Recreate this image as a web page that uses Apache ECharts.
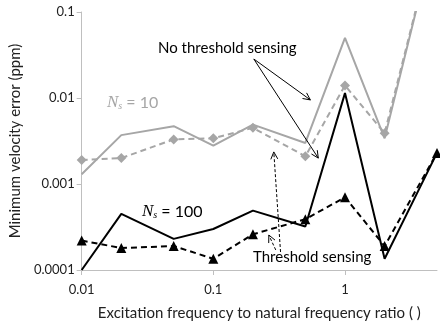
<!DOCTYPE html>
<html>
<head>
<meta charset="utf-8">
<script src="https://cdn.jsdelivr.net/npm/echarts@6/dist/echarts.min.js"></script>
<style>
  html, body { margin: 0; padding: 0; background: #fff; }
  #chart { width: 440px; height: 328px; }
</style>
</head>
<body>
<div id="chart"></div>
<script>
// frequency ratios (x) and errors in ppm (y)
const xValues = [0.01, 0.02, 0.05, 0.1, 0.2, 0.5, 1, 2, 5]
const ns10NoThreshold = [0.0013, 0.0037, 0.0047, 0.0028, 0.0049, 0.003, 0.05, 0.0034, 1.0]
const ns10Threshold = [0.0019, 0.002, 0.0033, 0.0034, 0.0045, 0.0021, 0.014, 0.0039, 1.0]
const ns100NoThreshold = [0.0001, 0.00045, 0.00023, 0.0003, 0.00049, 0.00032, 0.0114, 0.000135, 0.0023]
const ns100Threshold = [0.00022, 0.00018, 0.00019, 0.000135, 0.00026, 0.00039, 0.0007, 0.00019, 0.0023]

const xTicks = [0.01, 0.1, 1]
const xTickLabels = ['0.01', '0.1', '1']
const yTicks = [0.0001, 0.001, 0.01, 0.1]
const yTickLabels = ['0.0001', '0.001', '0.01', '0.1']

const FONT = 'Lato, "Open Sans", sans-serif'
const GRAY = '#a6a6a6'

const pairs = (ys) => xValues.map((x, i) => [x, ys[i]])

const tickLabel = (ticks, labels) => (v) => {
  const i = ticks.findIndex(t => Math.abs(Math.log10(t) - Math.log10(v)) < 1e-6)
  return i >= 0 ? labels[i] : ''
}

const chart = echarts.init(document.getElementById('chart'))

chart.setOption({
  animation: false,
  grid: { left: 78, right: 3, top: 12, bottom: 58 },
  xAxis: {
    type: 'log',
    logBase: 10,
    min: 0.01,
    max: 5,
    name: 'Excitation frequency to natural frequency ratio ( )',
    nameLocation: 'middle',
    nameGap: 36,
    nameTextStyle: { fontFamily: FONT, fontSize: 15, color: '#222' },
    axisLine: { lineStyle: { color: '#bfbfbf', width: 1 } },
    axisTick: { show: true, length: 5, customValues: xTicks, lineStyle: { color: '#bfbfbf' } },
    axisLabel: {
      customValues: xTicks,
      formatter: tickLabel(xTicks, xTickLabels),
      fontFamily: FONT, fontSize: 13, color: '#222', margin: 13
    },
    splitLine: { show: false },
    minorTick: { show: false }
  },
  yAxis: {
    type: 'log',
    logBase: 10,
    min: 0.0001,
    max: 0.1,
    name: 'Minimum velocity error (ppm)',
    nameLocation: 'middle',
    nameGap: 56,
    nameTextStyle: { fontFamily: FONT, fontSize: 15, color: '#222' },
    axisLine: { show: true, lineStyle: { color: '#bfbfbf', width: 1 } },
    axisTick: { show: true, length: 5, lineStyle: { color: '#bfbfbf' } },
    axisLabel: {
      formatter: tickLabel(yTicks, yTickLabels),
      fontFamily: FONT, fontSize: 13, color: '#222', margin: 7
    },
    splitLine: { show: false }
  },
  series: [
    {
      name: 'Ns=10 no threshold',
      type: 'line',
      data: pairs(ns10NoThreshold),
      showSymbol: false,
      lineStyle: { color: GRAY, width: 2 },
      itemStyle: { color: GRAY },
      z: 2
    },
    {
      name: 'Ns=10 threshold',
      type: 'line',
      data: pairs(ns10Threshold),
      symbol: 'diamond',
      symbolSize: 10,
      lineStyle: { color: GRAY, width: 2, type: [6, 4] },
      itemStyle: { color: GRAY },
      z: 2
    },
    {
      name: 'Ns=100 no threshold',
      type: 'line',
      data: pairs(ns100NoThreshold),
      showSymbol: false,
      lineStyle: { color: '#000', width: 2 },
      itemStyle: { color: '#000' },
      z: 3
    },
    {
      name: 'Ns=100 threshold',
      type: 'line',
      data: pairs(ns100Threshold),
      symbol: 'triangle',
      symbolSize: 10,
      lineStyle: { color: '#000', width: 2, type: [6, 4] },
      itemStyle: { color: '#000' },
      z: 3
    }
  ]
})

// annotation arrows, anchored in data space
const arrows = [
  { from: [0.203, 0.0284], to: [0.546, 0.0095], dashed: false },
  { from: [0.203, 0.0284], to: [0.627, 0.002], dashed: false },
  { from: [0.324, 0.000162], to: [0.288, 0.00236], dashed: true },
  { from: [0.298, 0.000171], to: [0.264, 0.000255], dashed: true }
]

const arrowGraphics = []
arrows.forEach(a => {
  const p0 = chart.convertToPixel({ gridIndex: 0 }, a.from)
  const p1 = chart.convertToPixel({ gridIndex: 0 }, a.to)
  const ang = Math.atan2(p1[1] - p0[1], p1[0] - p0[0])
  const len = 8
  const spread = 0.45
  const h1 = [p1[0] - len * Math.cos(ang - spread), p1[1] - len * Math.sin(ang - spread)]
  const h2 = [p1[0] - len * Math.cos(ang + spread), p1[1] - len * Math.sin(ang + spread)]
  const style = { stroke: '#000', lineWidth: 1, fill: null, lineDash: a.dashed ? [3, 2] : null }
  arrowGraphics.push({ type: 'polyline', shape: { points: [p0, p1] }, style, z: 10 })
  arrowGraphics.push({ type: 'polyline', shape: { points: [h1, p1, h2] }, style: { stroke: '#000', lineWidth: 1, fill: null }, z: 10 })
})

chart.setOption({
  graphic: [
    ...arrowGraphics,
    {
      type: 'text', left: 158, top: 41, z: 11,
      style: { text: 'No threshold sensing', font: '15px ' + FONT, fill: '#000' }
    },
    {
      type: 'text', left: 253, top: 250, z: 11,
      style: { text: 'Threshold sensing', font: '15px ' + FONT, fill: '#000' }
    },
    {
      type: 'text', left: 107, top: 94, z: 11,
      style: {
        text: '{n|N}{s|s}{t| = 10}',
        rich: {
          n: { fontFamily: '"Liberation Serif", serif', fontStyle: 'italic', fontSize: 17, fill: GRAY },
          s: { fontFamily: '"Liberation Serif", serif', fontStyle: 'italic', fontSize: 10, fill: GRAY, verticalAlign: 'bottom', padding: [8, 0, 0, 0] },
          t: { fontFamily: FONT, fontSize: 16, fill: GRAY }
        }
      }
    },
    {
      type: 'text', left: 142, top: 203, z: 11,
      style: {
        text: '{n|N}{s|s}{t| = 100}',
        rich: {
          n: { fontFamily: '"Liberation Serif", serif', fontStyle: 'italic', fontSize: 17, fill: '#000' },
          s: { fontFamily: '"Liberation Serif", serif', fontStyle: 'italic', fontSize: 10, fill: '#000', verticalAlign: 'bottom', padding: [8, 0, 0, 0] },
          t: { fontFamily: FONT, fontSize: 16, fill: '#000' }
        }
      }
    }
  ]
})

window.addEventListener('resize', () => {
  chart.resize()
})
</script>
</body>
</html>
